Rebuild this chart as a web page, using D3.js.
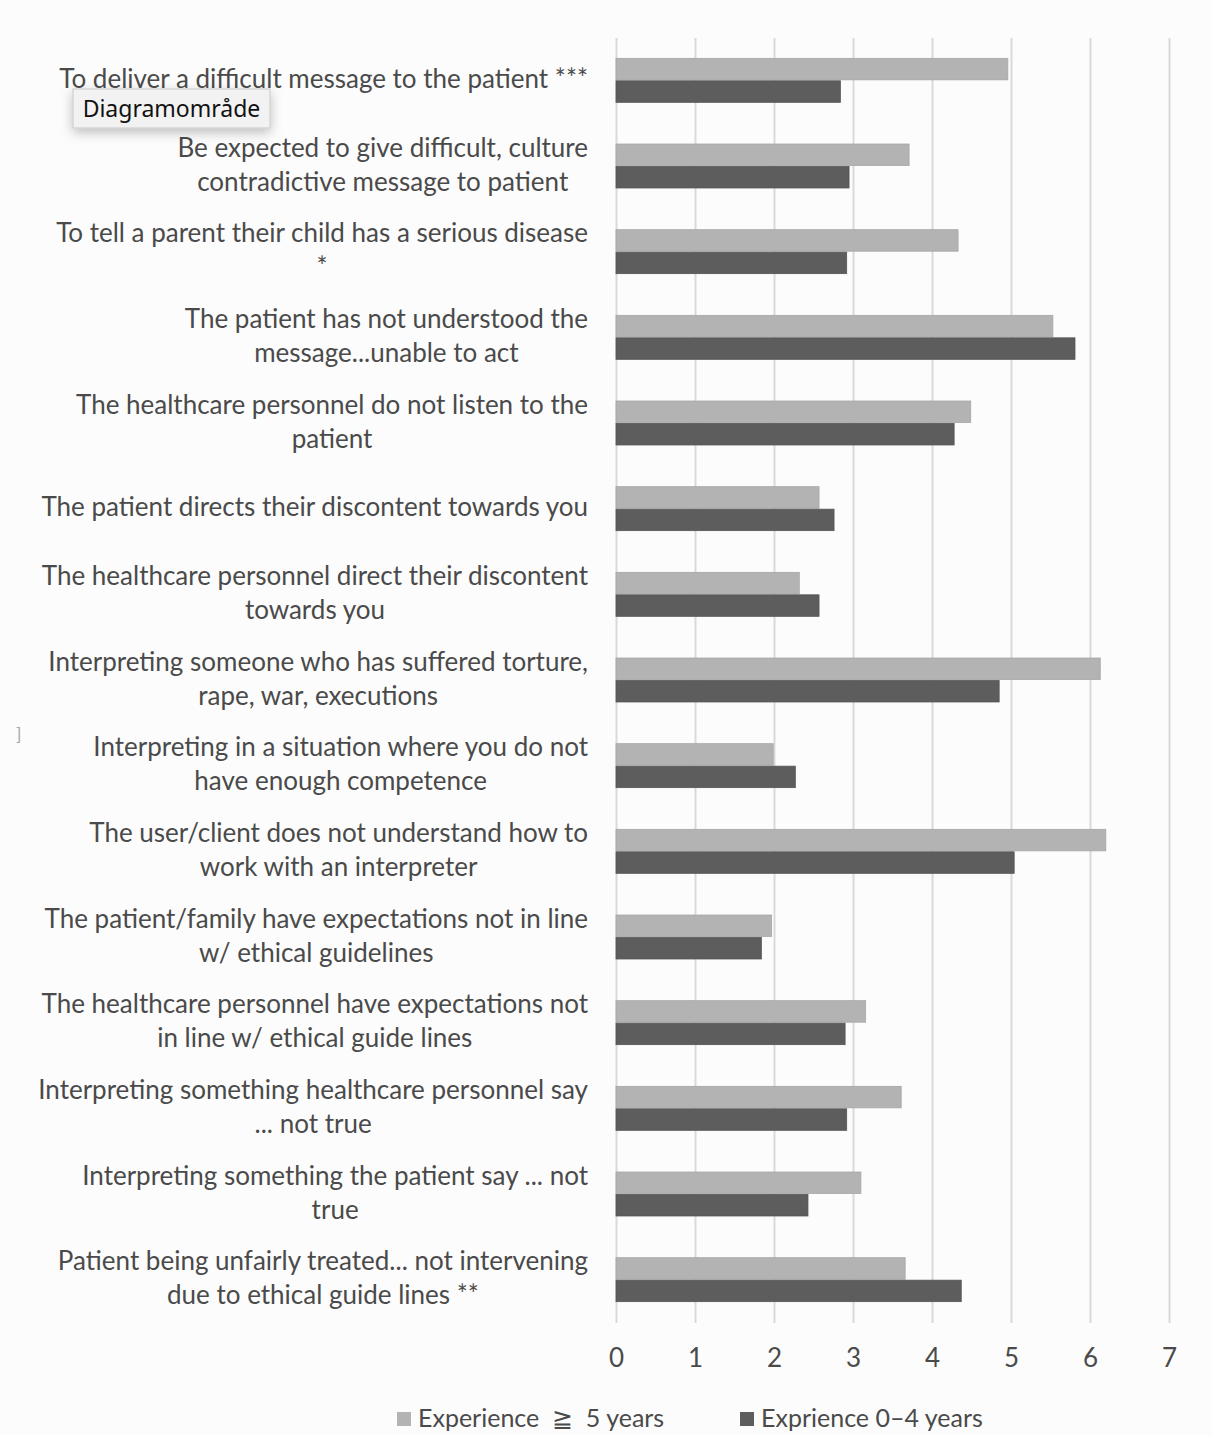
<!DOCTYPE html>
<html>
<head>
<meta charset="utf-8">
<script src="https://cdn.jsdelivr.net/npm/d3@7/dist/d3.min.js"></script>
<style>
  html, body { margin: 0; padding: 0; background: #fcfcfc; }
  svg { display: block; }
</style>
</head>
<body>
<svg id="chart" width="1212" height="1435"></svg>
<script>
// Survey items, one array entry per row; each entry is a list of label lines
const categories = [
  ["To deliver a difficult message to the patient ***"],
  ["Be expected to give difficult, culture", "contradictive message to patient"],
  ["To tell a parent their child has a serious disease", "*"],
  ["The patient has not understood the", "message...unable to act"],
  ["The healthcare personnel do not listen to the", "patient"],
  ["The patient directs their discontent towards you"],
  ["The healthcare personnel direct their discontent", "towards you"],
  ["Interpreting someone who has suffered torture,", "rape, war, executions"],
  ["Interpreting in a situation where you do not", "have enough competence"],
  ["The user/client does not understand how to", "work with an interpreter"],
  ["The patient/family have expectations not in line", "w/ ethical guidelines"],
  ["The healthcare personnel have expectations not", "in line w/ ethical guide lines"],
  ["Interpreting something healthcare personnel say", "... not true"],
  ["Interpreting something the patient say ... not", "true"],
  ["Patient being unfairly treated... not intervening", "due to ethical guide lines **"]
];

const seriesNames = ["Experience \u00a0\u2267\u00a0 5 years", "Exprience 0\u20134 years"];

const experienced = [4.96, 3.71, 4.33, 5.53, 4.49, 2.57, 2.32, 6.13, 1.99, 6.20, 1.97, 3.16, 3.61, 3.10, 3.66];
const novice      = [2.84, 2.95, 2.92, 5.81, 4.28, 2.76, 2.57, 4.85, 2.27, 5.04, 1.84, 2.90, 2.92, 2.43, 4.37];

const xTicks = [0, 1, 2, 3, 4, 5, 6, 7];

const colors = ["#b3b3b3", "#5d5d5d"];
const textColor = "#4a4a4a";
const font = "Lato, 'Open Sans', sans-serif";

const svg = d3.select("#chart");

const plot = { left: 616, right: 1169, top: 38, bottom: 1323 };

const x = d3.scaleLinear().domain([0, 7]).range([plot.left, plot.right]);

const y = d3.scaleBand()
  .domain(d3.range(categories.length))
  .range([plot.top, plot.bottom])
  .paddingInner(0.475)
  .paddingOuter(0.2375);

const ySub = d3.scaleBand().domain([0, 1]).range([0, y.bandwidth()]).padding(0);

// vertical gridlines and value axis
const xAxis = d3.axisBottom(x).tickValues(xTicks).tickSize(-(plot.bottom - plot.top)).tickFormat(d3.format("d")).tickPadding(26);
const gx = svg.append("g").attr("transform", `translate(0,${plot.bottom})`).call(xAxis);
gx.select(".domain").remove();
gx.selectAll(".tick line").attr("stroke", "#d9d9d9").attr("stroke-width", 2);
gx.selectAll(".tick text")
  .attr("fill", textColor)
  .attr("font-family", font)
  .attr("font-size", 26)
  .attr("dy", "0.71em");

// bars
const rows = svg.append("g").selectAll("g")
  .data(categories.map((c, i) => ({ i, vals: [experienced[i], novice[i]] })))
  .join("g")
  .attr("transform", d => `translate(0,${y(d.i)})`);

rows.selectAll("rect")
  .data(d => d.vals.map((v, s) => ({ v, s })))
  .join("rect")
  .attr("x", x(0))
  .attr("y", d => ySub(d.s))
  .attr("width", d => x(d.v) - x(0))
  .attr("height", ySub.bandwidth() - 1)
  .attr("fill", d => colors[d.s])
  .attr("stroke", d => d.s === 0 ? "#a6a6a6" : "#555")
  .attr("stroke-width", 0.8);

// category labels: each block right-aligned, lines centred on each other
const labelRight = 588;
const lineGap = 34;
const labels = svg.append("g");
categories.forEach((lines, i) => {
  const cy = y(i) + y.bandwidth() / 2 - 2;
  const g = labels.append("g");
  const texts = lines.map((ln, k) => g.append("text")
    .attr("font-family", font)
    .attr("font-size", 26)
    .attr("fill", textColor)
    .attr("text-anchor", "middle")
    .attr("y", cy + (k - (lines.length - 1) / 2) * lineGap)
    .attr("dy", "0.35em")
    .text(ln));
  const w = d3.max(texts, t => t.node().getComputedTextLength());
  texts.forEach(t => t.attr("x", labelRight - w / 2));
});

// legend
const legend = svg.append("g").attr("transform", "translate(0,1418)");
const legendX = [397, 740];
seriesNames.forEach((name, s) => {
  legend.append("rect")
    .attr("x", legendX[s]).attr("y", -6).attr("width", 14).attr("height", 14)
    .attr("fill", colors[s]);
  legend.append("text")
    .attr("x", legendX[s] + 21).attr("y", 0).attr("dy", "0.35em")
    .attr("font-family", font).attr("font-size", 25).attr("fill", textColor)
    .text(name);
});

// small bracket glyph at the left edge
svg.append("text").attr("x", 16).attr("y", 735).attr("dy", "0.35em")
  .attr("font-family", font).attr("font-size", 18).attr("fill", "#aaa").text("]");

// hover tooltip for the chart area
const defs = svg.append("defs");
const f = defs.append("filter").attr("id", "tipShadow").attr("x", "-30%").attr("y", "-50%").attr("width", "160%").attr("height", "250%");
f.append("feDropShadow").attr("dx", 0).attr("dy", 4).attr("stdDeviation", 6).attr("flood-color", "#000").attr("flood-opacity", 0.25);
const tip = svg.append("g").attr("transform", "translate(73,89)");
tip.append("rect").attr("width", 197).attr("height", 39)
  .attr("fill", "#f2f2f2").attr("stroke", "#c8c8c8").attr("stroke-width", 1)
  .attr("filter", "url(#tipShadow)");
tip.append("text").attr("x", 98.5).attr("y", 20).attr("dy", "0.35em")
  .attr("text-anchor", "middle")
  .attr("font-family", "'Noto Sans', 'DejaVu Sans', sans-serif").attr("font-size", 23).attr("fill", "#111")
  .text("Diagramområde");
</script>
</body>
</html>
